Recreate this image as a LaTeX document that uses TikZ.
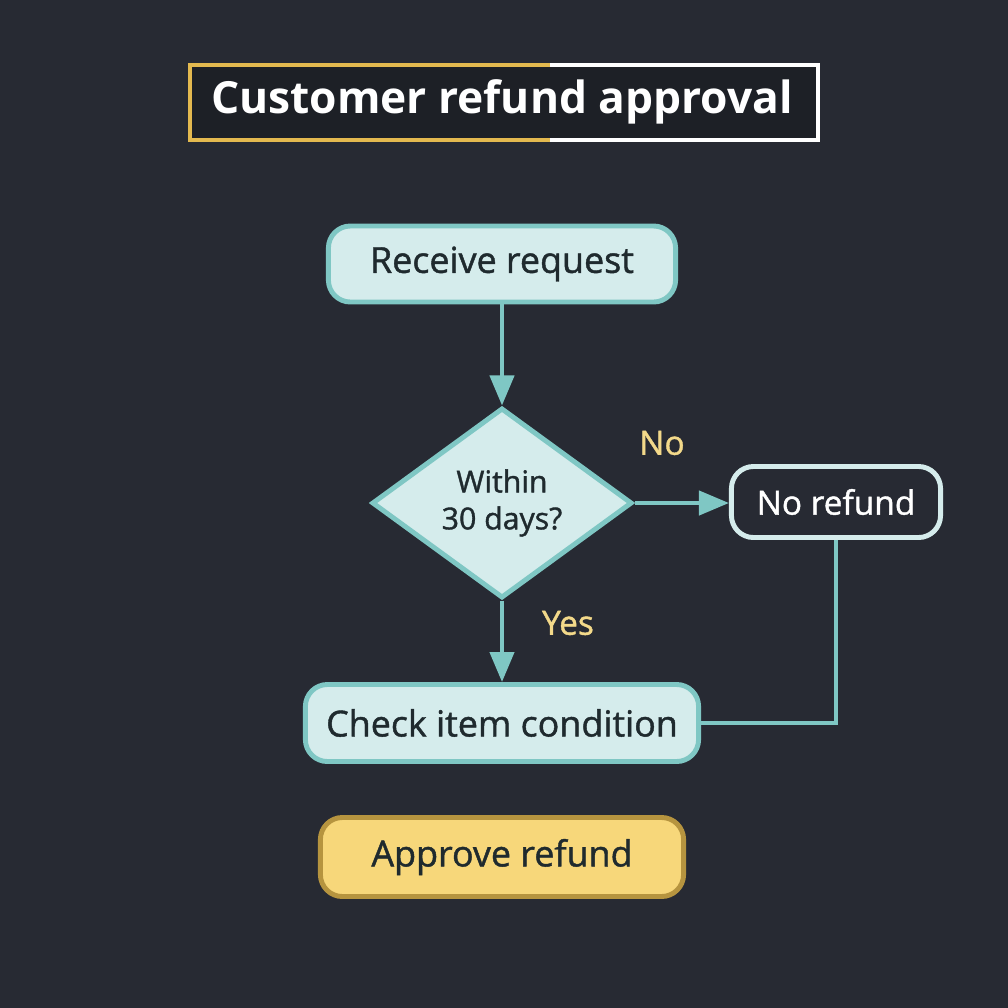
\documentclass[tikz,border=0pt]{standalone}
\usepackage{fontspec}
\setmainfont{Open Sans}
\newfontfamily\medium{Open Sans}[FakeBold=1.2]
\usetikzlibrary{shapes.geometric,arrows.meta}
\definecolor{bg}{HTML}{272A33}
\definecolor{tealline}{HTML}{7FC7C4}
\definecolor{paleteal}{HTML}{D5ECEC}
\definecolor{darktext}{HTML}{1F2A2E}
\definecolor{goldline}{HTML}{E3B94F}
\definecolor{goldfill}{HTML}{F7D77A}
\definecolor{yestext}{HTML}{F3D98A}
\begin{document}
\begin{tikzpicture}[x=0.01cm, y=-0.01cm,
process/.style={rectangle, rounded corners=2.2mm, draw=tealline, line width=1.4pt, fill=paleteal, text=darktext, font=\medium\fontsize{10.2}{12}\selectfont},
decision/.style={diamond, aspect=1.37, draw=tealline, line width=1.4pt, fill=paleteal, text=darktext, align=center, font=\medium\fontsize{8.6}{10.5}\selectfont, inner sep=0pt, minimum width=2.6cm, minimum height=1.9cm},
outcome/.style={rectangle, rounded corners=2.2mm, draw=paleteal, line width=1.4pt, fill=bg, text=white, font=\medium\fontsize{9.5}{11}\selectfont},
flow/.style={draw=tealline, line width=1.2pt},
branch/.style={text=yestext, font=\medium\fontsize{9.5}{11}\selectfont},
]
\fill[bg] (0,0) rectangle (1008,1008);

% title
\fill[black!25!bg] (190,65) rectangle (818,140);
\draw[white, line width=1.4pt] (550,65) -- (818,65) -- (818,140) -- (550,140);
\draw[goldline, line width=1.4pt] (550,65) -- (190,65) -- (190,140) -- (550,140);
\node[text=white, font=\fontsize{12.6}{15}\selectfont\bfseries] (title) at (502,102) {Customer refund approval};

% flow
\node[process, minimum width=3.47cm, minimum height=0.76cm] (receive) at (502,264) {Receive request};
\node[decision] (within) at (502,503) {Within\\30 days?};
\node[outcome, minimum width=2.09cm, minimum height=0.71cm] (norefund) at (836,502) {No refund};
\node[process, minimum width=3.93cm, minimum height=0.77cm] (check) at (502,723) {Check item condition};
\node[process, draw=goldline!80!black, fill=goldfill, minimum width=3.63cm, minimum height=0.79cm] (approve) at (502,857) {Approve refund};

\draw[flow, -{Triangle[length=3mm,width=2.4mm]}] (receive) -- (within);
\draw[flow, -{Triangle[length=3mm,width=2.4mm]}] (within.east) -- (norefund.west |- within.east);
\draw[flow, -{Triangle[length=3mm,width=2.4mm]}] (within.south) -- (check.north);
\draw[flow] (norefund.south) |- (check.east);

\node[branch] (no) at (662,443) {No};
\node[branch] (yes) at (568,623) {Yes};
\end{tikzpicture}
\end{document}
